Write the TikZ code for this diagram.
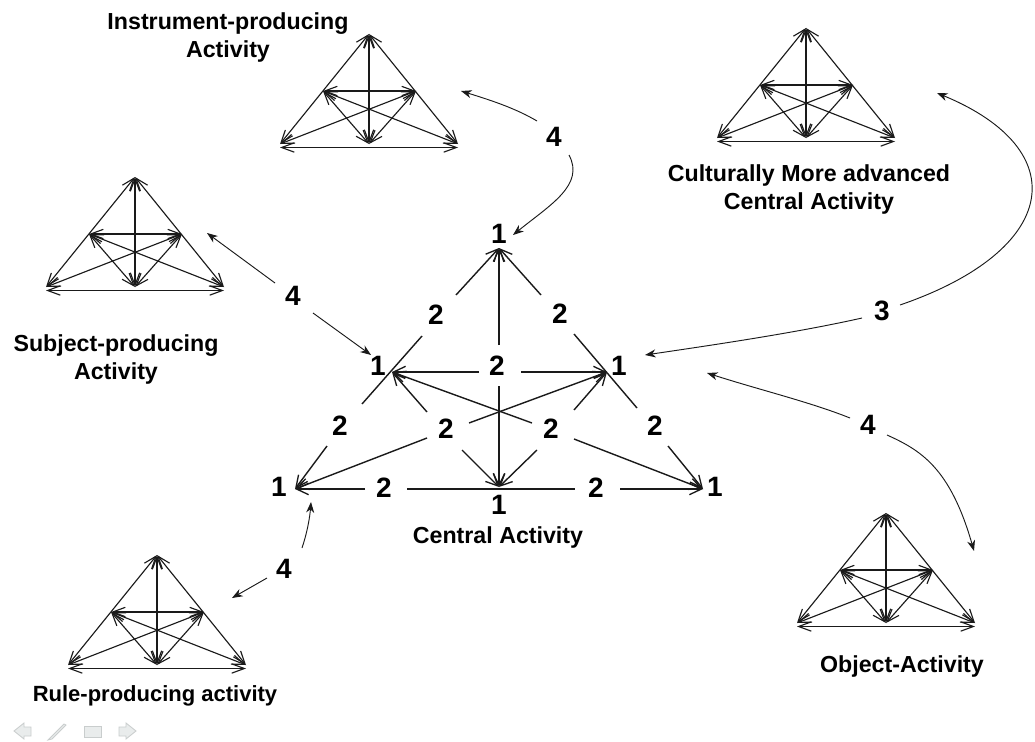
\documentclass[tikz,border=0pt]{standalone}
\usepackage{fontspec}
\setmainfont{Liberation Sans}
\usetikzlibrary{arrows.meta,calc}
\definecolor{ink}{HTML}{1A1A1A}
\definecolor{navfill}{HTML}{E9ECEC}
\definecolor{navline}{HTML}{C9CDCD}
\tikzset{
  num/.style={font=\fontsize{21}{24}\selectfont\bfseries,inner sep=0pt,text=black},
  captext/.style={font=\fontsize{17.4}{21}\selectfont\bfseries,align=center,inner sep=0pt,text=black},
  smallcap/.style={captext,font=\fontsize{16.5}{21}\selectfont\bfseries},
  seg/.style={draw=ink,line width=1.05pt},
  arr/.style={seg,-{Straight Barb[length=9pt,width=8.5pt,line width=1pt]}},
  link/.style={draw=ink,line width=0.7pt,-{Stealth[length=8pt,width=6pt,inset=2.5pt]}},
  mini/.style={draw=ink,line width=0.85pt,{Straight Barb[length=9.5pt,width=7pt,line width=.85pt]}-{Straight Barb[length=9.5pt,width=7pt,line width=.85pt]}},
  minibase/.style={mini,line width=1.2pt},
  nav/.style={fill=navfill,draw=navline,line width=.6pt},
  tri/.pic={
    \coordinate (-T) at (0,0);
    \coordinate (-ML) at (-46,57);
    \coordinate (-MR) at (47,57);
    \coordinate (-BL) at (-89,110);
    \coordinate (-BR) at (89,110);
    \coordinate (-B) at (0,110);
    \coordinate (-BaseL) at (-89,113.5);
    \coordinate (-BaseR) at (89,113.5);
    \draw[mini] (-T) -- (-BL);
    \draw[mini] (-T) -- (-BR);
    \draw[mini] (-T) -- (-B);
    \draw[minibase] (-BaseL) -- (-BaseR);
    \draw[mini] (-ML) -- (-MR);
    \draw[mini] (-ML) -- (-BR);
    \draw[mini] (-MR) -- (-BL);
    \draw[mini] (-ML) -- (-B);
    \draw[mini] (-MR) -- (-B);
  }
}
\begin{document}
\begin{tikzpicture}[x=0.75pt,y=-0.75pt]
\useasboundingbox[fill=white] (0,0) rectangle (1035,742);
% small triangles
\pic (inst) at (369,34) {tri};
\pic (cult) at (806,28) {tri};
\pic (subj) at (135,177) {tri};
\pic (obj) at (886,513) {tri};
\pic (rule) at (157,555) {tri};
% captions
\node[captext] (capinst) at (228,37.5) {Instrument-producing\\Activity};
\node[captext] (capcult) at (809,189.5) {Culturally More advanced\\Central Activity};
\node[captext] (capsubj) at (116,359) {Subject-producing\\Activity};
\node[captext] (capobj) at (902,666) {Object-Activity};
\node[smallcap] (caprule) at (155,696) {Rule-producing activity};
\node[captext] (capcent) at (498,537) {Central Activity};
% central vertices
\coordinate (T) at (499,248);
\coordinate (L) at (392,372);
\coordinate (R) at (607,372);
\coordinate (BL) at (295,489);
\coordinate (BR) at (703,489);
\coordinate (B) at (499,487);
% ones
\node[num] (oT) at (499,234) {1};
\node[num] (oL) at (378,366) {1};
\node[num] (oR) at (619,366) {1};
\node[num] (oBL) at (279,487) {1};
\node[num] (oBR) at (715,487) {1};
\node[num] (oB) at (499,505) {1};
% twos
\node[num] (a) at (436,315) {2};
\node[num] (b) at (560,314) {2};
\node[num] (c) at (340,426) {2};
\node[num] (d) at (655,426) {2};
\node[num] (m) at (497,366) {2};
\node[num] (p) at (446,429) {2};
\node[num] (q) at (551,429) {2};
\node[num] (e) at (384,488) {2};
\node[num] (f) at (596,488) {2};
% left edge
\draw[arr] ($(a)+(20,-20)$) -- (T);
\draw[seg] ($(a)+(-14,21)$) -- ($(c)+(22,-22)$);
\draw[arr] ($(c)+(-13,20)$) -- (BL);
% right edge
\draw[arr] ($(b)+(-19,-19)$) -- (T);
\draw[seg] ($(b)+(14,20)$) -- ($(d)+(-18,-18)$);
\draw[arr] ($(d)+(13,20)$) -- (BR);
% bottom edge
\draw[arr] ($(e)+(-19,1)$) -- (BL);
\draw[seg] ($(e)+(23,1)$) -- ($(f)+(-21,1)$);
\draw[arr] ($(f)+(24,1)$) -- (BR);
% centre
\draw[arr] ($(m)+(2,-21)$) -- (T);
\draw[arr] ($(m)+(2,20)$) -- (B);
\draw[arr] ($(m)+(-18,6)$) -- (L);
\draw[arr] ($(m)+(24,6)$) -- (R);
\draw[arr] ($(q)+(-19,-6)$) -- (L);
\draw[arr] ($(p)+(23,-6)$) -- (R);
\draw[arr] ($(p)+(-19,9)$) -- (BL);
\draw[arr] ($(q)+(23,10)$) -- (BR);
\draw[arr] ($(p)+(-19,-17)$) -- (L);
\draw[arr] ($(q)+(23,-19)$) -- (R);
\draw[arr] ($(p)+(16,21)$) -- (B);
\draw[arr] ($(q)+(-14,21)$) -- (B);
% fours and three
\node[num] (ft) at (554,137) {4};
\node[num] (fl) at (293,296) {4};
\node[num] (fr) at (868,425) {4};
\node[num] (fb) at (284,569) {4};
\node[num] (th) at (882,311) {3};
\coordinate (instend) at (461,91);
\coordinate (centT) at (513,235);
\coordinate (cultend) at (937,93);
\coordinate (centR) at (645,355);
\coordinate (subjend) at (207,233);
\coordinate (centL) at (371,355);
\coordinate (centR2) at (707,373);
\coordinate (objend) at (974,551);
\coordinate (ruleend) at (232,598);
\coordinate (centBL) at (311,502);
\draw[link] ($(ft)+(-17,-16)$) .. controls (515,108) and (490,100) .. (instend);
\draw[link] ($(ft)+(15,18)$) .. controls (585,185) and (550,205) .. (centT);
\draw[link] ($(th)+(18,-6)$) .. controls (1060,250) and (1075,150) .. (cultend);
\draw[link] ($(th)+(-20,7)$) .. controls (800,332) and (720,344) .. (centR);
\draw[link] ($(fl)+(-18,-13)$) -- (subjend);
\draw[link] ($(fl)+(20,17)$) -- (centL);
\draw[link] ($(fr)+(-18,-7)$) .. controls (810,402) and (760,390) .. (centR2);
\draw[link] ($(fr)+(19,10)$) .. controls (920,450) and (950,467) .. (objend);
\draw[link] ($(fb)+(-17,9)$) -- (ruleend);
\draw[link] ($(fb)+(18,-21)$) .. controls (308,530) and (310,515) .. (centBL);
% slide navigation icons
\draw[nav] (14,731) -- (24,723) -- (24,727) -- (31,727) -- (31,736) -- (24,736) -- (24,739) -- cycle;
\draw[nav] (48,740) -- (64,724) -- (66,725) -- (52,739) -- cycle;
\draw[nav] (84,726) rectangle (101,737);
\draw[nav] (136,731) -- (126,723) -- (126,727) -- (119,727) -- (119,736) -- (126,736) -- (126,739) -- cycle;
\end{tikzpicture}
\end{document}
